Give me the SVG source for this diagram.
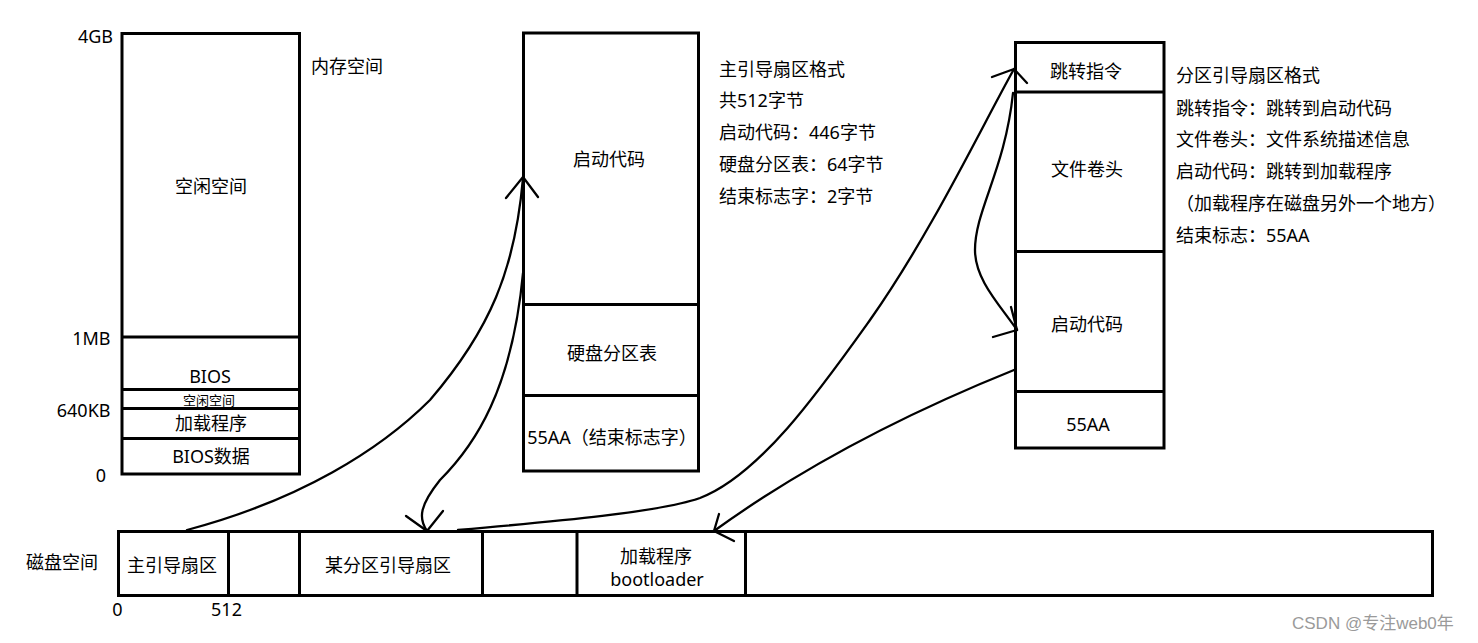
<svg xmlns="http://www.w3.org/2000/svg" width="1478" height="643" viewBox="0 0 1478 643">
<style>
.box{fill:#fff;stroke:#000;stroke-width:3}
.div{stroke:#000;stroke-width:3;fill:none}
.t{font-family:"Noto Sans","Noto Sans CJK SC",sans-serif;font-size:18px;fill:#000}
.c{text-anchor:middle}
.r{text-anchor:end}
.s{font-size:13px}
.con{fill:none;stroke:#000;stroke-width:2.3;stroke-linecap:round;stroke-linejoin:round}
.wm{font-family:"Liberation Sans","Noto Sans CJK SC",sans-serif;font-size:17px;fill:#9a9a9a}
</style>
<rect width="1478" height="643" fill="#fff"/>

<g id="memory">
<rect class="box" x="122" y="33.5" width="177.5" height="440.5"/>
<line class="div" x1="122" y1="337" x2="299.5" y2="337"/>
<line class="div" x1="122" y1="389.5" x2="299.5" y2="389.5"/>
<line class="div" x1="122" y1="408.5" x2="299.5" y2="408.5"/>
<line class="div" x1="122" y1="438.5" x2="299.5" y2="438.5"/>
<text class="t r" x="113" y="42.5">4GB</text>
<text class="t r" x="110.5" y="345">1MB</text>
<text class="t r" x="110.5" y="417">640KB</text>
<text class="t c" x="101" y="481.5">0</text>
<text class="t" x="311" y="73">内存空间</text>
<text class="t c" x="211" y="193">空闲空间</text>
<text class="t c" x="210" y="383">BIOS</text>
<text class="t c s" x="209" y="404.5">空闲空间</text>
<text class="t c" x="211" y="430">加载程序</text>
<text class="t c" x="211" y="463">BIOS数据</text>
</g>

<g id="mbr">
<rect class="box" x="523.5" y="33" width="175" height="438"/>
<line class="div" x1="523.5" y1="304.5" x2="698.5" y2="304.5"/>
<line class="div" x1="523.5" y1="395.5" x2="698.5" y2="395.5"/>
<text class="t c" x="609" y="166">启动代码</text>
<text class="t c" x="612" y="359.5">硬盘分区表</text>
<text class="t c" x="612" y="443.5">55AA（结束标志字）</text>
</g>

<g id="mbr-notes">
<text class="t" x="719" y="75.5">主引导扇区格式</text>
<text class="t" x="719" y="107">共512字节</text>
<text class="t" x="719" y="139">启动代码：446字节</text>
<text class="t" x="719" y="170.5">硬盘分区表：64字节</text>
<text class="t" x="719" y="202.5">结束标志字：2字节</text>
</g>

<g id="pbr">
<rect class="box" x="1015.5" y="42.5" width="148.5" height="405.5"/>
<line class="div" x1="1015.5" y1="92" x2="1164" y2="92"/>
<line class="div" x1="1015.5" y1="251.5" x2="1164" y2="251.5"/>
<line class="div" x1="1015.5" y1="391.5" x2="1164" y2="391.5"/>
<text class="t c" x="1086" y="78">跳转指令</text>
<text class="t c" x="1087" y="176">文件卷头</text>
<text class="t c" x="1087" y="331">启动代码</text>
<text class="t c" x="1088" y="430.5">55AA</text>
</g>

<g id="pbr-notes">
<text class="t" x="1176" y="82">分区引导扇区格式</text>
<text class="t" x="1176" y="114.5">跳转指令：跳转到启动代码</text>
<text class="t" x="1176" y="146">文件卷头：文件系统描述信息</text>
<text class="t" x="1176" y="178">启动代码：跳转到加载程序</text>
<text class="t" x="1176" y="210">（加载程序在磁盘另外一个地方）</text>
<text class="t" x="1176" y="241.5">结束标志：55AA</text>
</g>

<g id="disk">
<rect class="box" x="118.5" y="531.5" width="1314" height="64"/>
<line class="div" x1="228.5" y1="531.5" x2="228.5" y2="595.5"/>
<line class="div" x1="299.5" y1="531.5" x2="299.5" y2="595.5"/>
<line class="div" x1="482.5" y1="531.5" x2="482.5" y2="595.5"/>
<line class="div" x1="577" y1="531.5" x2="577" y2="595.5"/>
<line class="div" x1="745.5" y1="531.5" x2="745.5" y2="595.5"/>
<text class="t" x="26" y="569">磁盘空间</text>
<text class="t c" x="172" y="572">主引导扇区</text>
<text class="t c" x="388" y="572">某分区引导扇区</text>
<text class="t c" x="656" y="562.5">加载程序</text>
<text class="t c" x="657" y="586">bootloader</text>
<text class="t c" x="117.5" y="616">0</text>
<text class="t c" x="226.5" y="616">512</text>
</g>

<g id="connectors">
<path class="con" d="M187,530 C300,500 380,450 430,400 C490,330 515,270 523,178"/>
<path class="con" d="M506,198 L523,177 L538,197"/>
<path class="con" d="M523,273 C512,390 475,445 440,480 C420,505 418,518 427,531"/>
<path class="con" d="M406,516 L427,531 L443,511"/>
<path class="con" d="M458,530 C560,521 660,512 700,498 C760,475 820,390 870,320 C930,235 980,130 1014,69"/>
<path class="con" d="M992,77 L1014,69 L1027,83"/>
<path class="con" d="M1013,93 C1005,170 975,210 975,250 C975,280 1000,305 1017,330"/>
<path class="con" d="M1011,307 L1017,330 L993,337"/>
<path class="con" d="M1014,370 Q840,440 714,531"/>
<path class="con" d="M719,514 L714,531 L734,541"/>
</g>

<text class="wm" x="1292" y="629">CSDN @专注web0年</text>
</svg>
